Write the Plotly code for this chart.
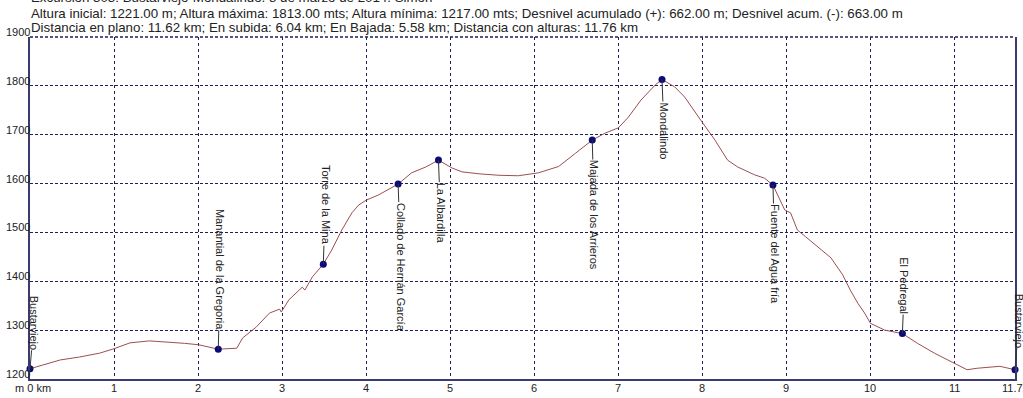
import plotly.graph_objects as go

# Profile data (km, m)
dist_km = [0.00, 0.12, 0.36, 0.59, 0.83, 1.00, 1.19, 1.42, 1.66, 1.84, 2.01, 2.24, 2.46, 2.53, 2.69,
           2.85, 2.97, 2.99, 3.08, 3.20, 3.24, 3.27, 3.36, 3.49, 3.59, 3.71, 3.83, 3.91, 4.00, 4.15,
           4.38, 4.54, 4.71, 4.86, 5.02, 5.14, 5.34, 5.58, 5.81, 6.05, 6.29, 6.49, 6.69, 6.84, 7.00,
           7.12, 7.27, 7.44, 7.52, 7.67, 7.79, 7.98, 8.15, 8.30, 8.42, 8.62, 8.74, 8.84, 8.98, 9.05,
           9.13, 9.23, 9.37, 9.53, 9.67, 9.76, 9.85, 9.93, 10.00, 10.17, 10.38, 10.56, 10.76, 11.00,
           11.15, 11.27, 11.54, 11.72]
elev_m = [1221, 1227, 1239, 1245, 1253, 1262, 1274, 1278, 1276, 1273, 1270, 1261, 1263, 1284, 1306,
          1335, 1343, 1337, 1362, 1382, 1388, 1382, 1409, 1435, 1464, 1505, 1540, 1556, 1566, 1577,
          1599, 1622, 1634, 1648, 1632, 1624, 1620, 1617, 1616, 1622, 1635, 1662, 1689, 1703, 1714,
          1736, 1771, 1802, 1813, 1798, 1777, 1730, 1689, 1648, 1634, 1618, 1611, 1597, 1546, 1540,
          1505, 1491, 1470, 1448, 1413, 1382, 1355, 1335, 1314, 1300, 1293, 1273, 1253, 1233,
          1219, 1222, 1226, 1219]

# Waypoints
wp_names = ["Bustarviejo", "Manantial de la Gregoria", "Torre de la Mina", "Collado de Hernán García",
            "La Albardilla", "Majada de los Arrieros", "Mondalindo", "Fuente del Agua fría",
            "El Pedregal", "Bustarviejo"]
wp_km = [0.00, 2.24, 3.49, 4.38, 4.86, 6.69, 7.52, 8.84, 10.38, 11.72]
wp_m = [1221, 1261, 1435, 1599, 1648, 1689, 1813, 1597, 1293, 1219]
wp_offset = [-46, -80, -59, 83, 53, 75, 51, 69, -48, -49]
wp_ax = [4, 2, 2, 3, 2, 2, 2, 2, 2, 4]

x_ticks = [0, 1, 2, 3, 4, 5, 6, 7, 8, 9, 10, 11, 11.72]
x_tick_text = ["m 0 km", "1", "2", "3", "4", "5", "6", "7", "8", "9", "10", "11", "11.72"]
y_ticks = [1200, 1300, 1400, 1500, 1600, 1700, 1800, 1900]

header_lines = [
    "Excursión 303: Bustarviejo-Mondalindo. 8 de marzo de 2014. Simón",
    "Altura inicial: 1221.00 m; Altura máxima: 1813.00 mts; Altura mínima: 1217.00 mts; Desnivel acumulado (+): 662.00 m; Desnivel acum. (-): 663.00 m",
    "Distancia en plano: 11.62 km; En subida: 6.04 km; En Bajada: 5.58 km; Distancia con alturas: 11.76 km",
]
header_y_px = [-3, 13, 28]

FONT = "Liberation Sans, Arial, sans-serif"
NAVY = "#1e1e5a"
W, H = 1023, 398
plot_l, plot_r, plot_t, plot_b = 30, 1017, 37, 379
pw, ph = plot_r - plot_l, plot_b - plot_t

fig = go.Figure()
fig.add_trace(go.Scatter(x=dist_km, y=elev_m, mode="lines",
                         line=dict(color="#9c4f4f", width=1), hoverinfo="skip"))
fig.add_trace(go.Scatter(x=wp_km, y=wp_m, mode="markers",
                         marker=dict(color="#0a0a78", size=7), cliponaxis=False, hoverinfo="skip"))

annotations = []
for name, xk, ym, off, axp in zip(wp_names, wp_km, wp_m, wp_offset, wp_ax):
    annotations.append(dict(x=xk, y=ym, xref="x", yref="y", text=name, textangle=90,
                            showarrow=True, arrowhead=0, arrowwidth=1, arrowcolor="#333333",
                            ax=axp, ay=off, font=dict(family=FONT, size=11, color="#222222"),
                            borderpad=0))
for v in y_ticks:
    annotations.append(dict(x=0, y=v, xref="paper", yref="y", text=str(v), showarrow=False,
                            xanchor="right", yanchor="middle", yshift=5, xshift=1,
                            font=dict(family=FONT, size=11, color="#222222"), borderpad=0))
for v, t in zip(x_ticks, x_tick_text):
    xs = 3 if v == 0 else 0
    annotations.append(dict(x=v, y=0, xref="x", yref="paper", text=t, showarrow=False,
                            xanchor="center", yanchor="middle", yshift=-9, xshift=xs,
                            font=dict(family=FONT, size=11, color="#222222"), borderpad=0))
for txt, hy in zip(header_lines, header_y_px):
    annotations.append(dict(x=(30 - plot_l) / pw, y=(plot_b - hy) / ph, xref="paper", yref="paper",
                            text=txt, showarrow=False, xanchor="left", yanchor="middle",
                            font=dict(family=FONT, size=13.3, color="#222222"), borderpad=0))

fig.update_layout(
    width=W, height=H,
    margin=dict(l=plot_l, r=W - plot_r, t=plot_t, b=H - plot_b, pad=0),
    paper_bgcolor="white", plot_bgcolor="white",
    showlegend=False,
    annotations=annotations,
    xaxis=dict(range=[0, 11.72], tickvals=[1, 2, 3, 4, 5, 6, 7, 8, 9, 10, 11], showticklabels=False,
               showgrid=True, gridcolor=NAVY, griddash="dot", gridwidth=1,
               showline=True, linecolor="#3a3a70", linewidth=1.5, zeroline=False, ticks=""),
    yaxis=dict(range=[1200, 1900], tickvals=[1300, 1400, 1500, 1600, 1700, 1800], showticklabels=False,
               showgrid=True, gridcolor=NAVY, griddash="3px,2px", gridwidth=1,
               showline=True, linecolor="#3a3a70", linewidth=1.5, mirror=True, zeroline=False, ticks=""),
    shapes=[dict(type="line", xref="paper", yref="paper", x0=0, x1=1, y0=1, y1=1,
                 line=dict(color=NAVY, width=1.5, dash="3px,2px"))],
)

fig.write_html("out.html", config={"displayModeBar": False},
               post_script="document.body.style.margin='0';document.body.style.overflow='hidden';")
